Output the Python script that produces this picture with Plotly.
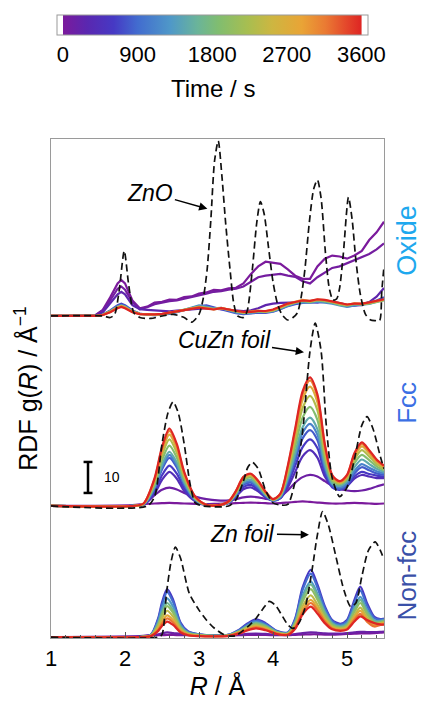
import plotly.graph_objects as go
from plotly.colors import sample_colorscale

# ---------------- data ----------------
T_MAX = 3600
COLORSCALE = [
    [0.00, '#7b1a9c'], [0.08, '#5a27b0'], [0.17, '#4639c4'], [0.25, '#426ccf'],
    [0.36, '#4f98c8'], [0.45, '#6ab49a'], [0.52, '#80bd70'], [0.62, '#a8be50'],
    [0.70, '#cdb641'], [0.80, '#e9a436'], [0.88, '#ea7a33'], [0.95, '#e4472b'],
    [1.00, '#de2523'],
]
CBAR_TICKS = [0, 900, 1800, 2700, 3600]
CBAR_MINOR_STEP = 300

# --- Oxide panel ---
R_OX = [1.0, 1.5, 1.6, 1.7, 1.8, 1.9, 1.95, 2.0, 2.1, 2.2, 2.3, 2.4, 2.5, 2.6, 2.7, 2.8, 2.9,
        3.0, 3.1, 3.2, 3.3, 3.4, 3.5, 3.6, 3.7, 3.8, 3.9, 4.0, 4.1, 4.2, 4.3, 4.4, 4.5, 4.6,
        4.7, 4.8, 4.9, 5.0, 5.1, 5.2, 5.3, 5.4, 5.5]
OX_TIMES = [0, 60, 250, 700, 1200, 1800, 2400, 3000, 3600]
OX_CURVES = [
    [0, 0, 0.3, 2, 6, 10.5, 11.6, 10.5, 5, 2.5, 3.0, 4.3, 4.6, 5.3, 5.2, 6.1, 6.3,
     7.2, 7.6, 8.4, 8.3, 8.9, 9.1, 10.5, 13.5, 16, 17.5, 17.2, 16.8, 15, 13, 12, 12, 16,
     18.5, 19.5, 19.2, 18.5, 19.5, 21, 24.5, 27, 30.4],
    [0, 0, 0.2, 1.8, 5, 8.8, 9.5, 8.5, 4.5, 2.2, 2.8, 3.8, 4.3, 4.8, 5, 5.5, 6,
     6.7, 7.2, 7.8, 8, 8.5, 8.8, 9.5, 11, 12.5, 13, 13.3, 13.6, 13, 12.6, 11.2, 10.5, 12.5,
     14, 15.5, 16, 17, 17.8, 18.8, 20, 21.5, 23.4],
    [0, 0, 0.1, 1.2, 4, 7, 7.8, 7, 3.5, 2.2, 2, 1.8, 1.6, 1.5, 1.7, 1.9, 2,
     2.2, 2.5, 2.4, 2.2, 2, 1.8, 1.6, 1.8, 2.5, 3.5, 4, 4.2, 4.3, 4.2, 4.4, 4.5, 4.4,
     4.5, 4.6, 4.2, 3.6, 3.4, 3.5, 4.5, 6.2, 9],
    [0, 0, 0, 0.5, 1.8, 3.5, 4, 3.5, 1.8, 0.8, 0.4, 0.3, 0.4, 0.7, 1.2, 1.9, 2.6,
     3.2, 3.4, 2.8, 2.2, 1.5, 0.9, 0.6, 0.8, 1.1, 1.0, 1.4, 2.2, 3.2, 3.8, 4.2, 4.6, 4.4,
     4.9, 4.6, 3.8, 3.1, 3.3, 3.9, 4.3, 5.0, 6.0],
    [0, 0, 0, 0.4, 1.6, 3.1, 3.5, 3.1, 1.6, 0.7, 0.4, 0.3, 0.5, 0.8, 1.3, 2.0, 2.7,
     3.4, 3.0, 2.5, 2.6, 1.8, 1.1, 0.8, 0.9, 1.3, 1.2, 1.5, 2.4, 3.4, 4.1, 4.4, 4.2, 4.6,
     4.3, 4.0, 3.4, 2.9, 3.4, 3.6, 3.9, 4.6, 5.2],
    [0, 0, 0, 0.4, 1.5, 2.9, 3.3, 2.9, 1.5, 0.7, 0.5, 0.4, 0.5, 0.9, 1.4, 2.1, 2.6,
     3.0, 2.7, 2.3, 2.4, 2.0, 1.4, 1.0, 1.2, 1.5, 1.3, 1.7, 2.6, 3.6, 4.3, 4.8, 4.5, 5.0,
     4.7, 4.3, 3.6, 3.3, 3.8, 3.7, 4.0, 4.4, 5.0],
    [0, 0, 0, 0.4, 1.4, 2.8, 3.2, 2.8, 1.4, 0.7, 0.5, 0.4, 0.6, 1.0, 1.5, 2.0, 2.4,
     2.9, 2.6, 2.1, 2.5, 2.1, 1.5, 1.1, 1.3, 1.6, 1.4, 1.8, 2.7, 3.7, 4.4, 5.0, 4.7, 5.2,
     5.0, 4.5, 3.8, 3.5, 4.0, 3.8, 4.2, 4.6, 5.2],
    [0, 0, 0, 0.3, 1.3, 2.7, 3.1, 2.7, 1.3, 0.6, 0.5, 0.5, 0.6, 1.0, 1.5, 1.9, 2.5,
     2.8, 2.5, 2.2, 2.6, 2.0, 1.6, 1.2, 1.4, 1.7, 1.5, 2.0, 2.9, 3.9, 4.6, 5.2, 4.8, 5.3,
     5.1, 4.6, 4.0, 3.6, 4.1, 3.9, 4.3, 4.8, 5.3],
    [0, 0, 0, 0.3, 1.2, 2.5, 2.9, 2.5, 1.2, 0.6, 0.5, 0.5, 0.7, 1.1, 1.6, 2.0, 2.4,
     2.7, 2.4, 2.1, 2.5, 2.2, 1.7, 1.3, 1.3, 1.6, 1.6, 2.1, 3.0, 4.0, 4.5, 5.0, 4.9, 5.4,
     5.2, 4.7, 4.1, 3.7, 4.0, 4.0, 4.4, 4.9, 5.4],
]
R_ZNO = [1.0, 1.7, 1.8, 1.86, 1.92, 1.99, 2.05, 2.12, 2.2, 2.35, 2.5, 2.65, 2.8, 2.9,
         3.0, 3.06, 3.11, 3.16, 3.21, 3.26, 3.31, 3.36, 3.42, 3.47, 3.52,
         3.6, 3.65, 3.72, 3.78, 3.83, 3.88, 3.94, 4.0, 4.06, 4.12,
         4.2, 4.27, 4.33, 4.38, 4.43, 4.49, 4.55, 4.6, 4.65, 4.71,
         4.76, 4.81, 4.86, 4.9, 4.95, 5.02, 5.07, 5.12, 5.18, 5.25,
         5.32, 5.38, 5.44, 5.47, 5.5]
ZNO = [0, 0, -0.5, 0.5, 8, 21, 10, 1, -0.5, -0.8, 0, 0.5, -0.5, -2,
       0.5, 6, 15, 31, 50, 56.5, 45, 30, 14.8, 4, 0,
       -0.5, 1.5, 14.8, 30, 36.9, 33, 22, 11, 4, 0.5,
       -1.3, -0.5, 1, 6, 14.8, 30, 41, 43.9, 38, 20,
       9, 5.2, 5.5, 9, 20, 38.3, 31, 18, 7, 0.5,
       -1.3, -1.5, -1.5, 8, 16]

# --- Fcc panel ---
R_FCC = [1.0, 2.1, 2.25, 2.4, 2.5, 2.6, 2.7, 2.8, 2.95, 3.1, 3.25, 3.4, 3.5, 3.6, 3.7,
         3.8, 3.9, 4.0, 4.1, 4.2, 4.3, 4.4, 4.5, 4.6, 4.7, 4.8, 4.9, 5.0, 5.1, 5.2, 5.3,
         5.4, 5.5]
FCC_TIMES = [0, 120, 400, 600, 800, 1100, 1500, 1900, 2300, 2700, 3100, 3600]
FCC_CURVES = [
    [0, 0.3, 0.6, 0.8, 0.9, 1.0, 0.9, 0.8, 0.7, 0.6, 0.7, 0.8, 0.9, 1.0, 1.1, 1.0, 0.9,
     0.8, 0.9, 1.1, 1.3, 1.5, 1.3, 1.1, 0.9, 0.8, 0.8, 0.9, 1.0, 0.9, 0.8, 0.7, 0.8],
    [0, 0, 0.5, 3.5, 5.2, 5.9, 5.3, 4.2, 3.0, 2.2, 1.8, 1.8, 2.2, 2.8, 3.0, 2.8, 2.3,
     2.2, 3.0, 5.0, 7.5, 9.3, 10.0, 9.5, 8.0, 6.5, 5.5, 5.0, 4.8, 5.0, 5.5, 6.3, 7.0],
    [0, 0, 0.4, 4, 8.4, 11, 8.8, 4.8, 1.5, 0.5, 0.3, 1.0, 3.0, 5.4, 6, 4.7, 2.8,
     1.8, 2.5, 6, 11, 16, 18, 15.6, 9.5, 6.5, 5.5, 6.5, 8.8, 10, 9.5, 9, 9],
    [0, 0, 0.4, 4.7, 9.9, 13, 10.4, 5.7, 1.6, 0.3, 0.2, 1.0, 3.2, 6.1, 6.8, 5.2, 2.9,
     1.7, 2.5, 7, 13, 19, 21.5, 18.7, 10.5, 6, 5.2, 6.3, 9.5, 11, 10.3, 9.8, 9.5],
    [0, 0, 0.5, 5.6, 11.8, 15.5, 12.4, 6.8, 1.9, 0.3, 0.2, 1.1, 3.5, 6.8, 7.5, 5.8, 3.2,
     1.7, 2.7, 8, 14.7, 21.8, 24.5, 21.3, 11.8, 6.5, 5.5, 6.8, 10.5, 12.5, 11.5, 10.5, 10],
    [0, 0, 0.5, 5.9, 12.5, 16.5, 13.2, 7.3, 2, 0.3, 0.2, 1.1, 3.7, 7.3, 8, 6.1, 3.4,
     1.8, 3, 8.5, 16, 23.6, 26.5, 23, 12.7, 7, 6, 7.3, 11.3, 13.5, 12.3, 11.2, 10.5],
    [0, 0, 0.6, 6.3, 13.3, 17.5, 14, 7.7, 2.1, 0.3, 0.2, 1.2, 3.9, 7.7, 8.5, 6.5, 3.6,
     1.9, 3.2, 9.2, 17.2, 25.4, 28.5, 24.8, 13.7, 7.3, 6.5, 8, 12.5, 15, 13.5, 12, 11],
    [0, 0, 0.6, 7, 14.8, 19.5, 15.6, 8.6, 2.3, 0.3, 0.2, 1.3, 4.2, 8.3, 9.2, 7.0, 3.9,
     2, 3.4, 10.2, 19.3, 28.5, 32, 27.8, 15.4, 8, 7, 8.6, 13.8, 16.5, 14.8, 12.8, 11.5],
    [0, 0, 0.7, 7.7, 16.3, 21.5, 17.2, 9.5, 2.6, 0.3, 0.2, 1.4, 4.5, 8.7, 9.7, 7.4, 4.1,
     2.1, 3.6, 11.2, 21.4, 31.6, 35.5, 30.9, 17, 8.7, 7.3, 9, 14.9, 18, 16, 13.6, 12],
    [0, 0, 0.7, 8.3, 17.5, 23, 18.4, 10.1, 2.8, 0.4, 0.2, 1.4, 4.6, 9.0, 10, 7.7, 4.3,
     2.1, 3.8, 12, 23.1, 34.3, 38.5, 33.5, 18.5, 9.3, 7.6, 9.5, 15.9, 19.2, 17, 14.3, 12.5],
    [0, 0, 0.8, 8.7, 18.4, 24.2, 19.4, 10.6, 2.9, 0.4, 0.2, 1.5, 4.8, 9.3, 10.3, 8.0, 4.5,
     2.2, 3.9, 12.6, 24.3, 36, 40.5, 35.2, 19.5, 9.7, 7.8, 9.8, 16.6, 20, 17.6, 14.7, 12.8],
    [0, 0, 0.8, 9, 19, 25, 20, 11, 3, 0.4, 0.2, 1.5, 4.9, 9.4, 10.4, 8.1, 4.6,
     2.2, 4, 13, 25, 37, 41.5, 36, 20, 10, 8, 10, 17, 20.5, 18, 15, 13],
]
R_CUZN = [1.0, 2.3, 2.4, 2.5, 2.58, 2.65, 2.72, 2.8, 2.88, 2.95, 3.05,
          3.4, 3.5, 3.6, 3.66, 3.72, 3.8, 3.9, 4.0, 4.1,
          4.2, 4.3, 4.4, 4.5, 4.57, 4.65, 4.72, 4.8, 4.9,
          5.0, 5.1, 5.2, 5.27, 5.35, 5.45, 5.5]
CUZN = [0, 0, 3, 20, 30, 33.6, 30, 20, 7, 1, 0,
        0, 2, 8, 12.5, 14.1, 12, 5, 1, 0.3,
        0.5, 8, 24, 50, 59, 50, 26, 9, 3,
        6, 15, 26, 28.8, 25, 16, 12]

# --- Non-fcc panel ---
R_NF = [1.0, 2.2, 2.35, 2.45, 2.5, 2.57, 2.65, 2.75, 2.85, 3.0, 3.2, 3.4, 3.55, 3.65,
        3.77, 3.9, 4.05, 4.2, 4.3, 4.4, 4.51, 4.6, 4.7, 4.8, 4.91, 5.0, 5.1, 5.18, 5.27,
        5.37, 5.45, 5.5]
NF_TIMES = [0, 150, 600, 900, 1300, 1700, 2000, 2400, 2800, 3200, 3600]
NF_CURVES = [
    [0, 0.2, 0.5, 0.6, 0.6, 0.7, 0.7, 0.6, 0.6, 0.5, 0.5, 0.5, 0.6, 0.7, 0.7, 0.7,
     0.6, 0.6, 0.7, 0.8, 0.9, 0.9, 0.8, 0.8, 0.9, 1, 1.1, 1.2, 1.2, 1.3, 1.4, 1.5],
    [0, 0.3, 0.7, 0.9, 1.2, 1.5, 1.3, 1, 0.8, 0.7, 0.6, 0.6, 0.8, 1, 1.1, 1,
     0.8, 0.8, 1, 1.3, 1.5, 1.4, 1.2, 1.1, 1.1, 1.3, 1.5, 1.7, 1.6, 1.6, 1.7, 1.8],
    [0, 0, 0.8, 6.2, 11.2, 15.5, 12.1, 4.7, 1.9, 0.9, 0.5, 0.8, 2.5, 4.3, 5.7, 4.5,
     2, 1.5, 6, 16, 21.7, 17, 10, 5.5, 4.3, 5.5, 12, 16.3, 11, 6.5, 5.8, 6],
    [0, 0, 0.7, 5.8, 10.4, 14.5, 11.3, 4.4, 1.7, 0.9, 0.5, 0.7, 2.3, 4, 5.3, 4.2,
     1.9, 1.4, 5.7, 15.2, 20.5, 16, 9.4, 5.2, 4, 5.1, 11.1, 15, 10.1, 6.1, 5.6, 5.8],
    [0, 0, 0.6, 5, 9, 12.5, 9.8, 3.8, 1.5, 0.8, 0.4, 0.7, 2.1, 3.6, 4.8, 3.8,
     1.7, 1.2, 5, 13.3, 18, 14, 8.3, 4.6, 3.6, 4.5, 9.6, 13, 8.8, 5.4, 5.2, 5.5],
    [0, 0, 0.6, 4.4, 7.9, 11, 8.6, 3.3, 1.3, 0.7, 0.4, 0.6, 2, 3.4, 4.5, 3.6,
     1.6, 1.2, 4.8, 12.6, 17, 13.3, 7.8, 4.3, 3.3, 4.1, 8.9, 12, 8.1, 5.1, 5, 5.3],
    [0, 0, 0.5, 4, 7.2, 10, 7.8, 3, 1.2, 0.6, 0.4, 0.6, 1.8, 3.2, 4.2, 3.3,
     1.5, 1.1, 4.3, 11.5, 15.5, 12.1, 7.1, 3.9, 3, 3.7, 8.1, 11, 7.4, 4.7, 4.7, 5],
    [0, 0, 0.4, 3.4, 6.1, 8.5, 6.6, 2.6, 1, 0.5, 0.3, 0.5, 1.7, 2.9, 3.8, 3,
     1.3, 1, 3.8, 10, 13.5, 10.5, 6.2, 3.4, 2.7, 3.3, 7, 9.5, 6.4, 4.2, 4.5, 4.8],
    [0, 0, 0.4, 2.8, 5, 7, 5.5, 2.1, 0.8, 0.4, 0.3, 0.5, 1.5, 2.6, 3.4, 2.7,
     1.2, 0.9, 3.4, 8.9, 12, 9.4, 5.5, 3, 2.4, 2.9, 6.3, 8.5, 5.7, 3.8, 4.2, 4.5],
    [0, 0, 0.3, 2.4, 4.3, 6, 4.7, 1.8, 0.7, 0.4, 0.3, 0.4, 1.4, 2.3, 3.1, 2.4,
     1.1, 0.8, 3.1, 8.1, 11, 8.6, 5.1, 2.8, 2.2, 2.6, 5.6, 7.5, 5, 3.4, 3.9, 4.2],
    [0, 0, 0.3, 2, 3.6, 5, 3.9, 1.5, 0.6, 0.3, 0.2, 0.4, 1.2, 2.1, 2.8, 2.2,
     1, 0.7, 2.7, 7.3, 9.8, 7.6, 4.5, 2.5, 2, 2.4, 5, 6.7, 5.5, 4.5, 4.1, 4],
]
R_ZN = [1.0, 2.45, 2.5, 2.56, 2.62, 2.68, 2.75, 2.87, 3.0, 3.1, 3.2, 3.32, 3.42, 3.5,
        3.59, 3.68, 3.77, 3.86, 3.95, 4.04, 4.13, 4.2, 4.27,
        4.35, 4.44, 4.53, 4.6, 4.67, 4.75, 4.85, 4.96, 5.05,
        5.12, 5.2, 5.29, 5.38, 5.45, 5.5]
ZN = [0, 0, 0.8, 14, 24, 29, 25.5, 14, 8.7, 5.5, 3, 1, 0.3, 0.5,
      2, 3.8, 6, 9, 11.5, 10, 6.6, 4, 2.8,
      4.5, 10, 22, 33, 40.5, 36, 26, 15, 9.8,
      11, 19.5, 28, 30.7, 28, 25]

PANELS = ['Oxide', 'Fcc', 'Non-fcc']
OFFSETS = {'Oxide': 103.6, 'Fcc': 42.3, 'Non-fcc': 0.0}
PANEL_COLORS = {'Oxide': '#1ea8ee', 'Fcc': '#3b6fe4', 'Non-fcc': '#3a50a8'}
PANEL_LABEL_Y = {'Oxide': 128.0, 'Fcc': 75.7, 'Non-fcc': 20.0}
SCALE_BAR = 10

panel_data = {
    'Oxide': (R_OX, OX_TIMES, OX_CURVES, R_ZNO, ZNO, 'linear'),
    'Fcc': (R_FCC, FCC_TIMES, FCC_CURVES, R_CUZN, CUZN, 'spline'),
    'Non-fcc': (R_NF, NF_TIMES, NF_CURVES, R_ZN, ZN, 'spline'),
}

FONT = 'Liberation Sans, Arial, Helvetica, sans-serif'

fig = go.Figure()

# colored time-series curves
for name in PANELS:
    rr, times, curves, _, _, shape = panel_data[name]
    off = OFFSETS[name]
    for t, vals in zip(times, curves):
        col = sample_colorscale(COLORSCALE, [t / T_MAX])[0]
        fig.add_trace(go.Scatter(
            x=rr, y=[v + off for v in vals], mode='lines',
            line=dict(color=col, width=2.2, shape=shape, smoothing=0.8),
            hoverinfo='skip', showlegend=False))

# dashed reference spectra
for name in PANELS:
    _, _, _, rref, vref, _ = panel_data[name]
    off = OFFSETS[name]
    fig.add_trace(go.Scatter(
        x=rref, y=[v + off for v in vref], mode='lines',
        line=dict(color='#111111', width=1.7, dash='7px,4px', shape='spline', smoothing=0.7),
        hoverinfo='skip', showlegend=False))

# ---- colorbar (dummy trace) ----
PLOT_L, PLOT_W, PLOT_B, PLOT_H = 51, 333, 638, 499
CB_LEFT_PX, CB_LEN_PX, CB_TOP_PX, CB_THICK = 57, 311, 15, 20
lo, hi = -72, 3680
p0 = (0 - lo) / (hi - lo)
p1 = (T_MAX - lo) / (hi - lo)
bar_scale = [[0, 'white'], [p0 - 0.001, 'white']]
bar_scale += [[p0 + s * (p1 - p0), c] for s, c in COLORSCALE]
bar_scale += [[p1 + 0.001, 'white'], [1, 'white']]
cb_x = (CB_LEFT_PX + CB_LEN_PX / 2 - PLOT_L) / PLOT_W
cb_y = (PLOT_B - CB_TOP_PX) / PLOT_H
fig.add_trace(go.Scatter(
    x=[None], y=[None], mode='markers', hoverinfo='skip', showlegend=False,
    marker=dict(color=[0], colorscale=bar_scale, cmin=lo, cmax=hi, showscale=True,
                colorbar=dict(
                    orientation='h', x=cb_x, xanchor='center', y=cb_y, yanchor='top',
                    len=CB_LEN_PX, lenmode='pixels', thickness=CB_THICK, thicknessmode='pixels',
                    xpad=0, ypad=0, outlinecolor='#9a9a9a', outlinewidth=1,
                    tickvals=CBAR_TICKS, ticktext=[str(v) for v in CBAR_TICKS],
                    ticks='', tickfont=dict(family=FONT, size=22, color='black'),
                ))))

shapes = []
# colorbar tick marks (top and bottom edges, inside)
for t in range(0, T_MAX + 1, CBAR_MINOR_STEP):
    major = t in CBAR_TICKS
    px = CB_LEFT_PX + (t - lo) / (hi - lo) * CB_LEN_PX
    xp = (px - PLOT_L) / PLOT_W
    ln = 5 if major else 3
    y_top = (PLOT_B - CB_TOP_PX) / PLOT_H
    y_bot = (PLOT_B - CB_TOP_PX - CB_THICK) / PLOT_H
    for ya, yb in [(y_top, y_top - ln / PLOT_H), (y_bot, y_bot + ln / PLOT_H)]:
        shapes.append(dict(type='line', xref='paper', yref='paper', x0=xp, x1=xp,
                           y0=ya, y1=yb, line=dict(color='#444444', width=1)))

annotations = []
# colorbar title
annotations.append(dict(x=cb_x, y=(PLOT_B - 88) / PLOT_H, xref='paper', yref='paper',
                        text='Time / s', showarrow=False, xanchor='center', yanchor='middle',
                        font=dict(family=FONT, size=24, color='black')))
# reference labels with arrows
for text, hx, hy, ax, ay in [('ZnO', 3.113, 138.2, -57, -16),
                             ('CuZn foil', 4.419, 91.9, -80, -12),
                             ('Zn foil', 4.486, 33.0, -66, -1)]:
    annotations.append(dict(x=hx, y=hy, xref='x', yref='y', ax=ax, ay=ay,
                            text='<i>' + text + '</i>', showarrow=True,
                            arrowhead=2, arrowsize=1.1, arrowwidth=1.5, arrowcolor='black',
                            font=dict(family=FONT, size=23, color='black')))
# panel labels on the right
for name in PANELS:
    annotations.append(dict(x=1.07, y=PANEL_LABEL_Y[name], xref='paper', yref='y',
                            text=name, textangle=-90, showarrow=False,
                            xanchor='center', yanchor='middle',
                            font=dict(family=FONT, size=27 if name == 'Oxide' else 26,
                                      color=PANEL_COLORS[name])))
# scale bar label
bar_x = 1.5
bar_y0 = 46.5
annotations.append(dict(x=1.82, y=bar_y0 + SCALE_BAR / 2, xref='x', yref='y',
                        text=str(SCALE_BAR), showarrow=False,
                        font=dict(family=FONT, size=14, color='black')))

shapes += [
    dict(type='line', xref='x', yref='y', x0=bar_x, x1=bar_x, y0=bar_y0, y1=bar_y0 + SCALE_BAR,
         line=dict(color='black', width=2.5)),
    dict(type='line', xref='x', yref='y', x0=bar_x - 0.06, x1=bar_x + 0.06, y0=bar_y0, y1=bar_y0,
         line=dict(color='black', width=2.5)),
    dict(type='line', xref='x', yref='y', x0=bar_x - 0.06, x1=bar_x + 0.06,
         y0=bar_y0 + SCALE_BAR, y1=bar_y0 + SCALE_BAR, line=dict(color='black', width=2.5)),
]

fig.update_layout(
    width=422, height=706,
    margin=dict(l=51, r=38, t=139, b=68),
    plot_bgcolor='white', paper_bgcolor='white',
    showlegend=False,
    font=dict(family=FONT, size=22, color='black'),
    annotations=annotations, shapes=shapes,
    xaxis=dict(range=[1, 5.5], tickvals=[1, 2, 3, 4, 5], ticks='inside', ticklen=6,
               tickcolor='#555555', showgrid=False, zeroline=False,
               showline=True, mirror=True, linecolor='#9a9a9a', linewidth=1.2,
               tickfont=dict(family=FONT, size=22, color='black'),
               minor=dict(dtick=0.2, tick0=1, ticks='inside', ticklen=3, tickcolor='#555555'),
               title=dict(text='<i>R</i> / Å', standoff=4,
                          font=dict(family=FONT, size=25, color='black'))),
    yaxis=dict(range=[-0.3, 160.7], showticklabels=False, ticks='', showgrid=False,
               zeroline=False, showline=True, mirror=True, linecolor='#9a9a9a',
               linewidth=1.2,
               title=dict(text='RDF g(<i>R</i>) / Å<sup>−1</sup>', standoff=5,
                          font=dict(family=FONT, size=25, color='black'))),
)

fig.write_html('out.html')
